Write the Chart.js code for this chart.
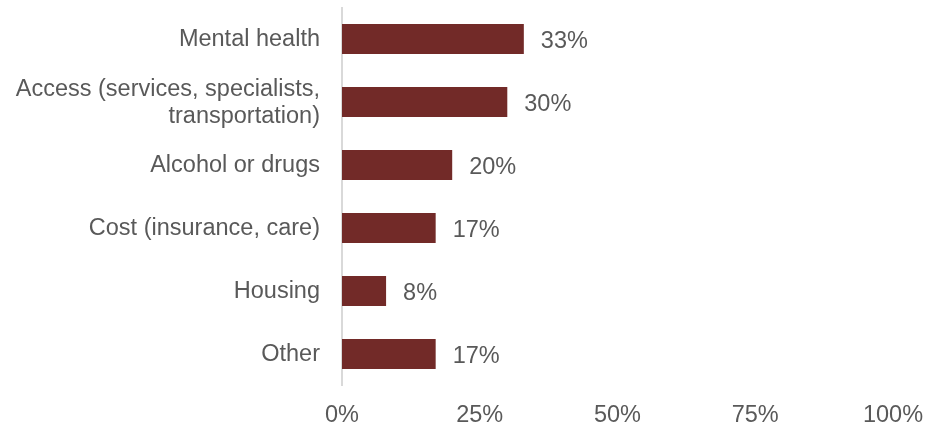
<!DOCTYPE html>
<html>
<head>
<meta charset="utf-8">
<script src="https://cdn.jsdelivr.net/npm/chart.js@4/dist/chart.umd.min.js"></script>
<style>
  html, body { margin: 0; padding: 0; background: #ffffff; }
  #wrap { width: 925px; height: 426px; }
</style>
</head>
<body>
<div id="wrap"><canvas id="chart" width="925" height="426"></canvas></div>
<script>
// Survey responses: share of mentions per issue
const categories = [
  'Mental health',
  ['Access (services, specialists,', 'transportation)'],
  'Alcohol or drugs',
  'Cost (insurance, care)',
  'Housing',
  'Other'
];
const shares = [33, 30, 20, 17, 8, 17];
const tickValues = [0, 25, 50, 75, 100];

const textColor = '#595959';
const barColor = '#722A28';
const fontSpec = { family: '"Liberation Sans", Arial, sans-serif', size: 23.5, lineHeight: 1.15 };

// Writes each bar's percentage just past its end
const valueLabels = {
  id: 'valueLabels',
  afterDatasetsDraw(chart) {
    const ctx = chart.ctx;
    const meta = chart.getDatasetMeta(0);
    ctx.save();
    ctx.font = fontSpec.size + 'px ' + fontSpec.family;
    ctx.fillStyle = textColor;
    ctx.textAlign = 'left';
    ctx.textBaseline = 'middle';
    meta.data.forEach((bar, i) => {
      ctx.fillText(shares[i] + '%', bar.x + 17, bar.y + 3);
    });
    ctx.restore();
  }
};

new Chart(document.getElementById('chart'), {
  type: 'bar',
  data: {
    labels: categories,
    datasets: [{
      data: shares,
      backgroundColor: barColor,
      borderWidth: 0,
      categoryPercentage: 1,
      barPercentage: 0.476
    }]
  },
  options: {
    indexAxis: 'y',
    responsive: false,
    animation: false,
    layout: { padding: { top: 7.5, right: 32, left: 0, bottom: 0 } },
    plugins: { legend: { display: false }, tooltip: { enabled: false } },
    scales: {
      x: {
        min: 0,
        max: 100,
        afterBuildTicks(scale) { scale.ticks = tickValues.map(v => ({ value: v })); },
        afterFit(scale) {
          scale.height = 40.5;
          scale.paddingLeft = 0;
          scale.paddingRight = 0;
        },
        grid: { display: false, drawTicks: false },
        border: { display: false },
        ticks: {
          padding: 16.5,
          color: textColor,
          font: fontSpec,
          maxRotation: 0,
          callback: v => v + '%'
        }
      },
      y: {
        afterFit(scale) {
          scale.width = 342;
          scale.paddingTop = 0;
          scale.paddingBottom = 0;
        },
        grid: { display: false, drawTicks: false },
        border: { display: true, color: '#d9d9d9', width: 2 },
        ticks: {
          padding: 22,
          labelOffset: 1,
          color: textColor,
          font: fontSpec,
          autoSkip: false
        }
      }
    }
  },
  plugins: [valueLabels]
});
</script>
</body>
</html>
